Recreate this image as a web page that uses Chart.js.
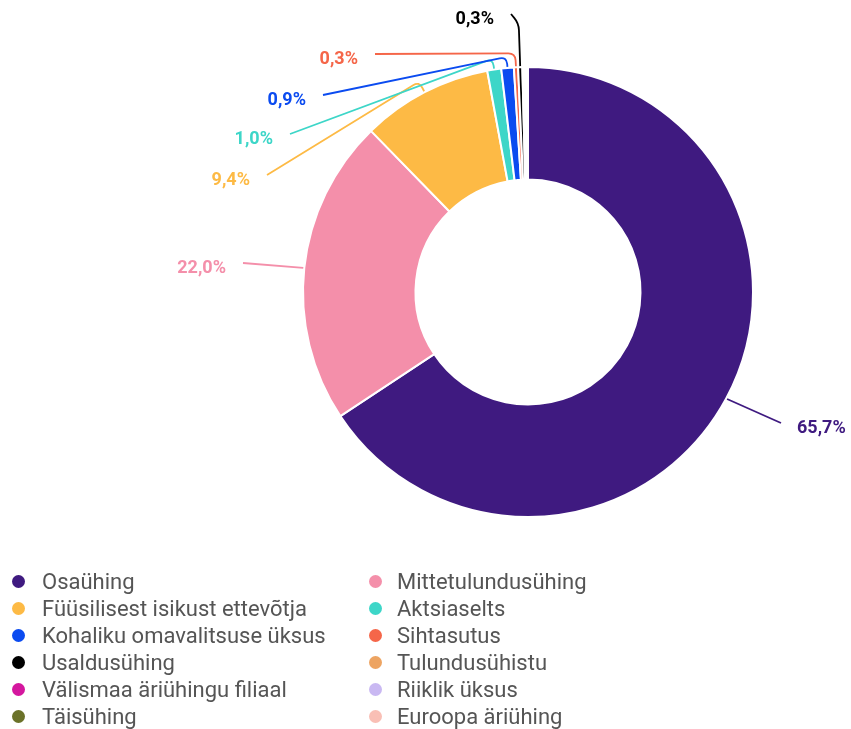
<!DOCTYPE html>
<html>
<head>
<meta charset="utf-8">
<script src="https://cdn.jsdelivr.net/npm/chart.js@4.4.1/dist/chart.umd.min.js"></script>
<style>
  body { margin: 0; background: #fff; font-family: Roboto, "Noto Sans", sans-serif; }
  #wrap { position: relative; width: 851px; height: 729px; }
  #legend {
    position: absolute; left: 0; top: 568px;
    display: grid; grid-template-columns: 356px 380px; grid-auto-rows: 27px;
  }
  .item { position: relative; height: 27px; line-height: 27px; font-size: 22px; color: #555; white-space: nowrap; }
  .item .dot { position: absolute; left: 12px; top: 7px; width: 13px; height: 13px; border-radius: 50%; }
  .item .txt { position: absolute; left: 42px; top: 0; }
  .item.c2 .dot { left: 13px; }
  .item.c2 .txt { left: 41px; }
</style>
</head>
<body>
<div id="wrap">
  <canvas id="donut"></canvas>
  <div id="legend"></div>
</div>
<script>
const categories = [
  'Osaühing', 'Mittetulundusühing', 'Füüsilisest isikust ettevõtja', 'Aktsiaselts',
  'Kohaliku omavalitsuse üksus', 'Sihtasutus', 'Usaldusühing', 'Tulundusühistu',
  'Välismaa äriühingu filiaal', 'Riiklik üksus', 'Täisühing', 'Euroopa äriühing'
];
const shares = [65.7, 22.0, 9.4, 1.0, 0.9, 0.3, 0.3, 0.1, 0.1, 0.1, 0.05, 0.05];
const colors = [
  '#3f1a80', '#f48faa', '#fdba45', '#3dd6c8',
  '#0b4bf0', '#f56649', '#000000', '#eda462',
  '#d4179e', '#c9b8f2', '#6b7229', '#f9bfb5'
];
const labelColors = ['#3f1a80', '#f48faa', '#fdba45', '#3dd6c8', '#0b4bf0', '#f56649', '#000000'];

const fmtPct = v => v.toFixed(1).replace('.', ',') + '%';

// leader line + label placement for the labelled slices
const labelSpots = [
  { index: 0, elbow: 0,  end: [781, 423], side: 'right' },
  { index: 1, elbow: 0,  end: [243, 263], side: 'left' },
  { index: 2, elbow: 12, end: [267, 175], side: 'left' },
  { index: 3, elbow: 11, end: [290, 134], side: 'left' },
  { index: 4, elbow: 11, end: [323, 95],  side: 'left' },
  { index: 5, elbow: 14, end: [375, 54],  side: 'left' },
  { index: 6, elbow: 44, end: [511, 14],  side: 'left' }
];

const leaderLines = {
  id: 'leaderLines',
  afterDatasetsDraw(chart, args, opts) {
    const ctx = chart.ctx;
    const meta = chart.getDatasetMeta(0);
    ctx.save();
    ctx.lineWidth = 1.8;
    ctx.font = 'bold 18px Roboto';
    ctx.textBaseline = 'middle';
    opts.spots.forEach(s => {
      const arc = meta.data[s.index];
      const p = arc.getProps(['x', 'y', 'startAngle', 'endAngle', 'outerRadius'], true);
      const a = (p.startAngle + p.endAngle) / 2;
      const c = Math.cos(a), sn = Math.sin(a);
      const r0 = p.outerRadius + 1;
      const x0 = p.x + c * r0, y0 = p.y + sn * r0;
      const col = labelColors[s.index];
      ctx.strokeStyle = col;
      ctx.beginPath();
      ctx.moveTo(x0, y0);
      if (s.elbow > 0) {
        const r1 = p.outerRadius + s.elbow;
        const x1 = p.x + c * r1, y1 = p.y + sn * r1;
        const rc = Math.min(7, s.elbow - 2);
        const dx = s.end[0] - x1, dy = s.end[1] - y1;
        const d = Math.hypot(dx, dy);
        ctx.lineTo(p.x + c * (r1 - rc), p.y + sn * (r1 - rc));
        ctx.quadraticCurveTo(x1, y1, x1 + dx / d * rc, y1 + dy / d * rc);
      }
      ctx.lineTo(s.end[0], s.end[1]);
      ctx.stroke();
      ctx.fillStyle = col;
      if (s.side === 'right') {
        ctx.textAlign = 'left';
        ctx.fillText(fmtPct(shares[s.index]), s.end[0] + 16, s.end[1] + 5);
      } else {
        ctx.textAlign = 'right';
        ctx.fillText(fmtPct(shares[s.index]), s.end[0] - 17, s.end[1] + 5);
      }
    });
    ctx.restore();
  }
};

new Chart(document.getElementById('donut'), {
  type: 'doughnut',
  data: {
    labels: categories,
    datasets: [{ data: shares, backgroundColor: colors, borderColor: '#fff', borderWidth: 2, hoverOffset: 0 }]
  },
  options: {
    responsive: true, maintainAspectRatio: false, animation: false,
    cutout: '50%',
    layout: { padding: { left: 302, top: 66, right: 97, bottom: 211 } },
    plugins: {
      legend: { display: false },
      tooltip: { enabled: false },
      leaderLines: { spots: labelSpots }
    }
  },
  plugins: [leaderLines]
});

const legend = document.getElementById('legend');
categories.forEach((name, i) => {
  const it = document.createElement('div');
  it.className = 'item' + (i % 2 ? ' c2' : '');
  it.innerHTML = '<span class="dot" style="background:' + colors[i] + '"></span><span class="txt">' + name + '</span>';
  legend.appendChild(it);
});
</script>
</body>
</html>
